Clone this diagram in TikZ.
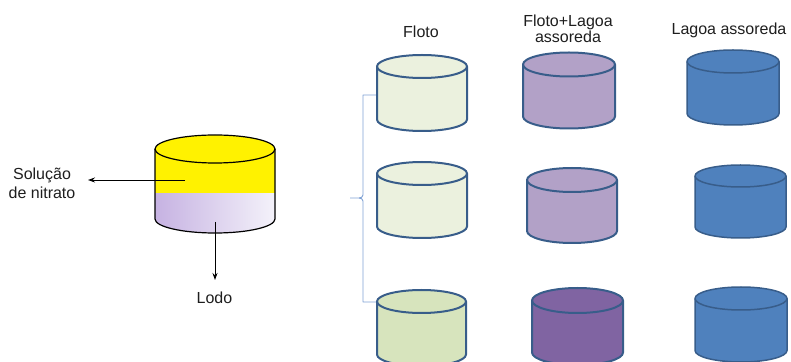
\documentclass[tikz,border=0pt]{standalone}
\usepackage{fontspec}
\setmainfont{Liberation Sans}
\usetikzlibrary{arrows.meta}

\definecolor{edgeblue}{HTML}{385D8A}
\definecolor{flotolight}{HTML}{EBF1DE}
\definecolor{flotomid}{HTML}{D7E4BD}
\definecolor{lilaclight}{HTML}{B2A1C7}
\definecolor{lilacdark}{HTML}{8064A2}
\definecolor{drumblue}{HTML}{4F81BD}
\definecolor{bracketblue}{HTML}{7FA1D4}
\definecolor{sludgeleft}{HTML}{C6B2E2}
\definecolor{sludgeright}{HTML}{F4F2FA}
\definecolor{textgray}{HTML}{1E1E1E}

% \drum{name}{cx}{top centre y, measured downward}{rx}{ry}{height}{fill}{style}
\newcommand{\drum}[8]{%
  \coordinate (#1) at ({#2},{361-#3-#6/2});
  \filldraw[#8, fill=#7]
    ({#2-#4},{361-#3}) -- ({#2-#4},{361-#3-#6})
    arc[start angle=180, end angle=360, x radius=#4pt, y radius=#5pt]
    -- ({#2+#4},{361-#3})
    arc[start angle=0, end angle=180, x radius=#4pt, y radius=#5pt] -- cycle;
  \draw[#8] ({#2-#4},{361-#3})
    arc[start angle=180, end angle=360, x radius=#4pt, y radius=#5pt];
}

\tikzset{
  drumline/.style={draw=edgeblue, line width=2pt, line join=round},
  bluedrumline/.style={draw=edgeblue, line width=1.5pt, line join=round},
  label/.style={font=\fontsize{16}{19}\selectfont, text=textgray, inner sep=0pt, anchor=base},
  flow/.style={draw=black, line width=0.9pt, -{Stealth[length=7pt, width=5pt]}},
  bracket/.style={draw=bracketblue, line width=0.9pt, line join=round}
}

\begin{document}
\begin{tikzpicture}[x=1pt, y=1pt]
\useasboundingbox (0,0) rectangle (791,361);

% ---- settling drum: nitrate solution above, sludge below ----
\shade[left color=sludgeleft, right color=sludgeright]
  (155,{361-193}) -- (155,{361-219})
  arc[start angle=180, end angle=360, x radius=60pt, y radius=14pt]
  -- (275,{361-193}) -- cycle;
\fill[yellow]
  (155,{361-193}) -- (155,{361-149})
  arc[start angle=180, end angle=0, x radius=60pt, y radius=14pt]
  -- (275,{361-193}) -- cycle;
\draw[black, line width=1.2pt, line join=round]
  (155,{361-149}) -- (155,{361-219})
  arc[start angle=180, end angle=360, x radius=60pt, y radius=14pt]
  -- (275,{361-149})
  arc[start angle=0, end angle=180, x radius=60pt, y radius=14pt];
\draw[black, line width=1.2pt]
  (155,{361-149}) arc[start angle=180, end angle=360, x radius=60pt, y radius=14pt];

\coordinate (nitrateOut) at (185,{361-180});
\coordinate (sludgeOut) at (215,{361-222});
\node[label, align=center, anchor=center] (nitrate) at (42,{361-183})
  {Solução\\de nitrato};
\node[label] (lodo) at (214.5,{361-303.5}) {Lodo};
\coordinate (nitrateTip) at (88,{361-180});
\coordinate (lodoTip) at (215,{361-280});
\draw[flow] (nitrateOut) -- (nitrateTip);
\draw[flow] (sludgeOut) -- (lodoTip);

% ---- column headings ----
\node[label] (hFloto) at (421,{361-37.5}) {Floto};
\node[label] (hMix1) at (568,{361-26.5}) {Floto+Lagoa};
\node[label] (hMix2) at (568,{361-42.5}) {assoreda};
\node[label] (hLagoa) at (729,{361-34.5}) {Lagoa assoreda};

% ---- bracket joining the three sample rows ----
\coordinate (bTop) at (377,{361-95});
\coordinate (bBot) at (377,{361-302});
\coordinate (bTick) at (350,{361-198});
\draw[bracket] (bTop) -- (363,{361-95}) -- (363,{361-195})
  to[out=-90, in=0] (359,{361-198}) -- (bTick);
\draw[bracket] (359,{361-198}) to[out=0, in=90] (363,{361-201})
  -- (363,{361-302}) -- (bBot);

% ---- sample drums ----
\drum{f1}{422}{66.5}{45}{11.5}{53}{flotolight}{drumline}
\drum{f2}{422}{173.5}{45}{11.5}{53}{flotolight}{drumline}
\drum{f3}{421.5}{301.5}{44.5}{11.5}{53}{flotomid}{drumline}

\drum{m1}{569}{64.5}{46}{12}{52}{lilaclight}{drumline}
\drum{m2}{572}{180}{45}{12}{51}{lilaclight}{drumline}
\drum{m3}{577.5}{300.5}{45.5}{12.5}{52}{lilacdark}{drumline}

\drum{l1}{733}{61.5}{46}{11.5}{52}{drumblue}{bluedrumline}
\drum{l2}{740.5}{176}{45.5}{11}{51}{drumblue}{bluedrumline}
\drum{l3}{741}{298.5}{46}{11.5}{52}{drumblue}{bluedrumline}

\end{tikzpicture}
\end{document}
